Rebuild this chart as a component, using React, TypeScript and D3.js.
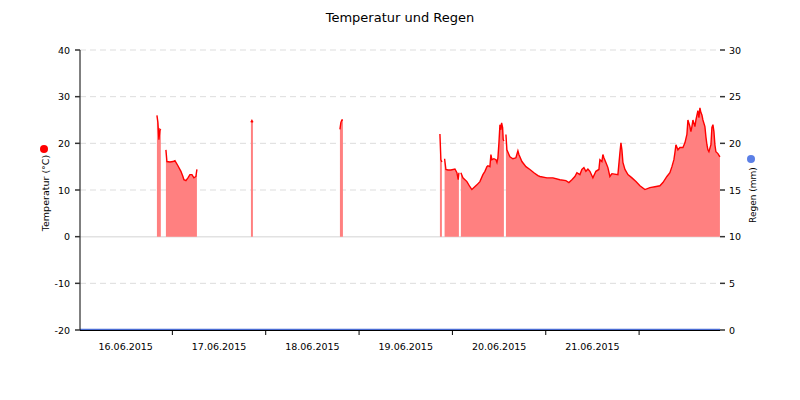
import React from "react";
import * as d3 from "d3";

// hours since 16.06.2015 00:00, null = gap
const tempHours: number[] = [
  20.03, 20.28, 20.54, 20.8, 21.03, 21.1,
  22.34, 22.6, 23.37, 24.14, 24.66, 25.43, 26.2, 26.71, 26.97, 27.48, 28.0, 28.51, 29.03, 29.54, 30.05, 30.31, 30.4,
  44.2, 44.45, 44.71, 44.8,
  67.08, 67.33, 67.59, 67.85, 67.9,
  92.79, 93.04, 93.3, 93.5,
  93.99, 94.33, 94.85, 95.62, 96.65, 97.16, 97.49, 97.67, 97.8,
  98.18, 98.7, 99.73, 100.5, 101.01, 101.27, 102.3, 103.07, 103.84, 104.36, 104.87, 105.13, 105.64, 105.9, 106.16, 106.67, 107.19, 107.45, 107.7, 107.96, 108.22, 108.47, 108.65, 108.91, 109.06, 109.24, 109.3,
  109.76, 110.01, 110.79, 111.56, 112.33, 112.84, 113.1, 113.87, 114.9, 115.93, 116.96, 117.99, 118.5, 120.3, 121.84, 123.64, 125.18, 125.95, 126.72, 127.49, 128.01, 128.78, 129.29, 129.81, 130.32, 130.84, 131.35, 132.12, 132.89, 133.66, 133.92, 134.43, 134.69, 134.95, 135.46, 135.98, 136.49, 137.01, 138.55, 139.07, 139.33, 139.58, 139.84, 140.36, 141.13, 142.16, 143.19, 144.21, 145.5, 146.78, 148.07, 149.35, 150.12, 151.15, 151.92, 152.44, 152.95, 153.21, 153.47, 153.98, 154.49, 155.27, 155.78, 156.29, 156.55, 157.06, 157.32, 157.58, 157.84, 158.35, 158.61, 158.86, 159.12, 159.38, 159.64, 159.89, 160.15, 160.41, 160.92, 161.18, 161.44, 161.69, 161.95, 162.47, 162.72, 162.98, 163.24, 163.49, 163.75, 164.27, 164.78,
];
const tempValues: (number | null)[] = [
  26, 24.5, 20.8, 23, 22.8, null,
  18.6, 16.1, 16, 16.1, 16.3, 15.2, 14, 12.9, 12.2, 12, 12.6, 13.3, 13.3, 12.6, 12.9, 14.4, null,
  24.5, 24.9, 24.5, null,
  23, 24.5, 25, 25, null,
  22, 16.5, 16, null,
  16.7, 14.4, 14.3, 14.3, 14.5, 13.7, 12.2, 13.7, null,
  13.7, 12.6, 11.8, 10.7, 10.1, 10.3, 11.1, 11.8, 13.3, 14, 15, 15.2, 15, 17.6, 16.5, 16.7, 16.5, 15.9, 16.9, 20.1, 24, 22.9, 24.4, 23.4, 20.8, 20.5, null,
  21.9, 18.6, 17.1, 16.7, 16.9, 18.4, 17.6, 16.1, 15, 14.4, 13.7, 13.1, 12.9, 12.6, 12.6, 12.2, 12, 11.6, 12.2, 12.9, 13.7, 13.3, 14.4, 14.8, 14, 14.5, 14, 12.6, 14, 14.4, 16.5, 16.1, 17.6, 16.9, 15.9, 14.8, 12.9, 13.5, 13.3, 18, 20.1, 18.6, 15.9, 14.4, 13.3, 12.6, 11.8, 10.9, 10.1, 10.5, 10.7, 10.9, 11.6, 12.9, 13.7, 15, 16.5, 18, 19.7, 18.6, 19.1, 19.1, 20.1, 21.9, 25, 23.6, 22.5, 23.6, 25, 23.6, 25, 26, 27, 25.5, 27.6, 26.6, 26.1, 25, 23.6, 21.4, 19.7, 18.6, 18.2, 19.7, 23.4, 24, 22.5, 19.7, 18.2, 17.8, 17.1,
];
const rainHours: number[] = [0.25, 164.8];
const rainValues: number[] = [0, 0];

const tempTicks: number[] = [-20, -10, 0, 10, 20, 30, 40];
const rainTicks: number[] = [0, 5, 10, 15, 20, 25, 30];
const dayLabels: string[] = ["16.06.2015", "17.06.2015", "18.06.2015", "19.06.2015", "20.06.2015", "21.06.2015"];

const T0 = Date.UTC(2015, 5, 16, 0, 0);
const hToDate = (h: number) => new Date(T0 + h * 3600 * 1000);

export default function App() {
  const W = 800, H = 400;
  const left = 80, right = 720, top = 50, bottom = 330;
  const font = "DejaVu Sans, Verdana, sans-serif";

  const x = d3.scaleUtc().domain([hToDate(0.25), hToDate(164.8)]).range([left, right]);
  const yT = d3.scaleLinear().domain([-20, 40]).range([bottom, top]);
  const yR = d3.scaleLinear().domain([0, 30]).range([bottom, top]);

  const pts = tempHours.map((h, i) => ({ t: hToDate(h), v: tempValues[i] }));
  const area = d3.area<any>()
    .defined((d) => d.v !== null)
    .x((d) => x(d.t))
    .y0(yT(0))
    .y1((d) => yT(d.v));
  const line = d3.line<any>()
    .defined((d) => d.v !== null)
    .x((d) => x(d.t))
    .y((d) => yT(d.v));
  const rainPts = rainHours.map((h, i) => ({ t: hToDate(h), v: rainValues[i] }));
  const rainLine = d3.line<any>().x((d) => x(d.t)).y((d) => yR(d.v) - 0.5);

  const midnights = d3.range(1, 7).map((d) => hToDate(d * 24));
  const noons = dayLabels.map((_, i) => hToDate(i * 24 + 12));

  return (
    <svg width={W} height={H} style={{ display: "block", position: "absolute", left: 0, top: 0 }}>
      <rect width={W} height={H} fill="#fff" />
      <text x={400} y={22} textAnchor="middle" fontFamily={font} fontSize={13} fill="#000">
        Temperatur und Regen
      </text>
      {/* grid */}
      {tempTicks.filter((t) => t !== -20).map((t) => (
        <line key={t} x1={left} x2={right} y1={yT(t)} y2={yT(t)}
          stroke={t === 0 ? "#e2e2e2" : "#dddddd"} strokeWidth={t === 0 ? 1.5 : 1}
          strokeDasharray={t === 0 ? undefined : "6,4"} />
      ))}
      {/* data */}
      <path d={area(pts) || ""} fill="#ff8080" stroke="none" />
      <path d={line(pts) || ""} fill="none" stroke="#ff0000" strokeWidth={1.4} />
      <path d={rainLine(rainPts) || ""} fill="none" stroke="#4a6cd4" strokeWidth={1.5} />
      {/* axes */}
      <line x1={left} x2={left} y1={top} y2={bottom} stroke="#000" />
      <line x1={left} x2={right} y1={bottom + 0.5} y2={bottom + 0.5} stroke="#000" />
      {tempTicks.map((t) => (
        <g key={t}>
          <line x1={left - 5} x2={left} y1={yT(t)} y2={yT(t)} stroke="#333" strokeWidth={1.5} />
          <text x={left - 10} y={yT(t) + 3.5} textAnchor="end" fontFamily={font} fontSize={9.5} fill="#000">{t}</text>
        </g>
      ))}
      {rainTicks.map((t) => (
        <g key={t}>
          <line x1={right} x2={right + 5} y1={yR(t)} y2={yR(t)} stroke="#333" strokeWidth={1.5} />
          <text x={right + 9} y={yR(t) + 3.5} textAnchor="start" fontFamily={font} fontSize={9.5} fill="#000">{t}</text>
        </g>
      ))}
      {midnights.map((d, i) => (
        <line key={i} x1={x(d)} x2={x(d)} y1={bottom} y2={bottom + 5} stroke="#000" />
      ))}
      {noons.map((d, i) => (
        <text key={i} x={x(d)} y={bottom + 20} textAnchor="middle" fontFamily={font} fontSize={9.5} fill="#000">
          {dayLabels[i]}
        </text>
      ))}
      {/* axis titles */}
      <circle cx={44} cy={149} r={4} fill="#ff0000" />
      <text transform="translate(48.5,193) rotate(-90)" textAnchor="middle" fontFamily={font} fontSize={9.5} fill="#000">
        Temperatur (°C)
      </text>
      <circle cx={751} cy={159} r={4} fill="#5b7fe6" />
      <text transform="translate(755.5,195) rotate(-90)" textAnchor="middle" fontFamily={font} fontSize={9} fill="#000">
        Regen (mm)
      </text>
    </svg>
  );
}
